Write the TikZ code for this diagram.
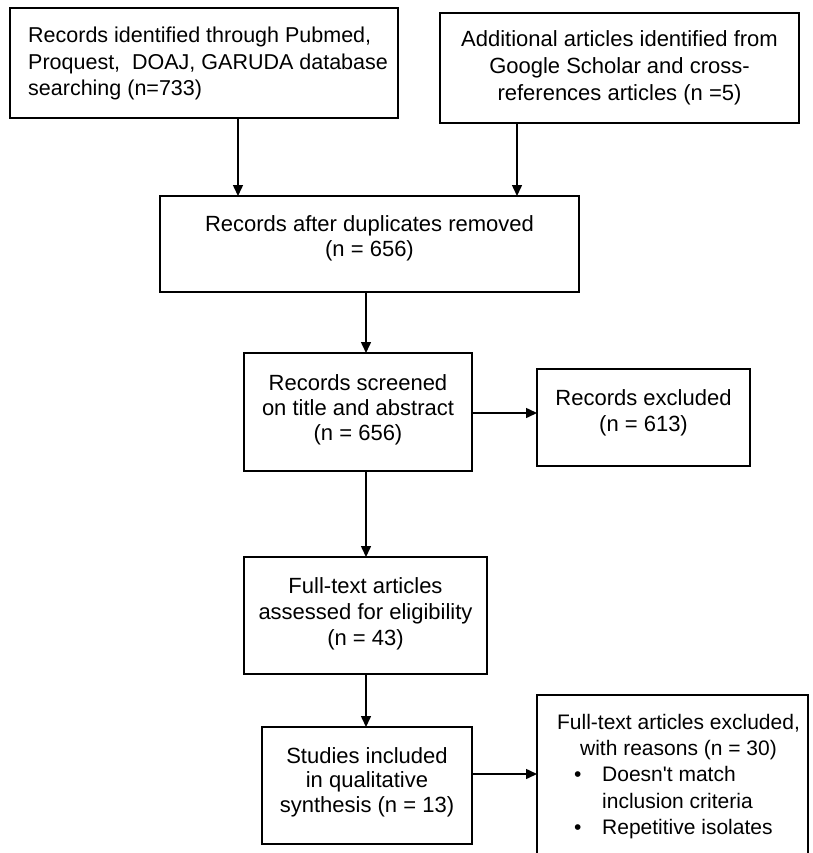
\documentclass[tikz,border=0pt]{standalone}
\usepackage{fontspec}
\setmainfont{Liberation Sans}
\usetikzlibrary{arrows.meta}
\begin{document}
\begin{tikzpicture}[x=1pt,y=-1pt,
  box/.style={draw, line width=1.5pt, inner sep=0pt, outer sep=0pt, anchor=north west},
  txt/.style={font=\fontsize{22}{26}\selectfont, inner sep=0pt, align=center, anchor=north},
  arr/.style={line width=1.5pt, -{Triangle[length=11pt,width=10pt]}}]
\useasboundingbox (0,0) rectangle (812,853);
\clip (0,0) rectangle (812,853);
% boxes
\node[box, minimum width=388pt, minimum height=110pt] (b1) at (10,8) {};
\node[box, minimum width=359pt, minimum height=110pt] (b2) at (440,13) {};
\node[box, minimum width=419pt, minimum height=96pt] (b3) at (160,196) {};
\node[box, minimum width=228pt, minimum height=118pt] (b4) at (244,353) {};
\node[box, minimum width=213pt, minimum height=97pt] (b5) at (537,369) {};
\node[box, minimum width=243pt, minimum height=117pt] (b6) at (244,557) {};
\node[box, minimum width=210pt, minimum height=117pt] (b7) at (262,727) {};
\node[box, minimum width=271pt, minimum height=175pt] (b8) at (537,695) {};
% texts
\node[txt, font=\fontsize{21.5}{26.5}\selectfont, anchor=north west, align=left] (t1) at (28,27) {Records identified through Pubmed,\\Proquest,\ \ DOAJ, GARUDA database\\searching (n=733)};
\node[txt, font=\fontsize{22}{27}\selectfont] (t2) at (619.5,30) {Additional articles identified from\\Google Scholar and cross-\\references articles (n =5)};
\node[txt, font=\fontsize{22}{25}\selectfont] (t3) at (369.5,215) {Records after duplicates removed\\(n = 656)};
\node[txt, font=\fontsize{22}{25}\selectfont] (t4) at (358,374) {Records screened\\on title and abstract\\(n = 656)};
\node[txt] (t5) at (643.5,389) {Records excluded\\(n = 613)};
\node[txt] (t6) at (365.5,577) {Full-text articles\\assessed for eligibility\\(n = 43)};
\node[txt, font=\fontsize{22}{24.5}\selectfont] (t7) at (367,747) {Studies included\\in qualitative\\synthesis (n = 13)};
\node[txt, font=\fontsize{21}{26}\selectfont] (t8) at (678.5,714.5) {Full-text articles excluded,\\with reasons (n = 30)};
\node[txt, font=\fontsize{21}{26.5}\selectfont, anchor=north west, align=left] (t8b) at (574,766.5) {\makebox[28pt][l]{•}Doesn\textquotesingle t match\\\makebox[28pt][l]{}inclusion criteria\\\makebox[28pt][l]{•}Repetitive isolates};
% connectors
\coordinate (xa) at (238,0);
\coordinate (xb) at (517,0);
\coordinate (xc) at (366,0);
\coordinate (ya) at (0,413);
\coordinate (yb) at (0,774);
\draw[arr] (xa |- b1.south) -- (xa |- b3.north);
\draw[arr] (xb |- b2.south) -- (xb |- b3.north);
\draw[arr] (xc |- b3.south) -- (xc |- b4.north);
\draw[arr] (b4.east |- ya) -- (b5.west |- ya);
\draw[arr] (xc |- b4.south) -- (xc |- b6.north);
\draw[arr] (xc |- b6.south) -- (xc |- b7.north);
\draw[arr] (b7.east |- yb) -- (b8.west |- yb);
\end{tikzpicture}
\end{document}
